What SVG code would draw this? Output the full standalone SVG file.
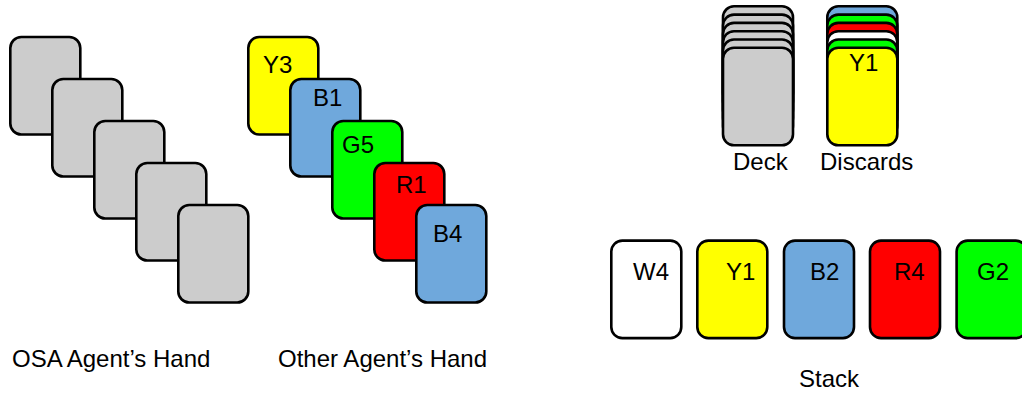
<svg xmlns="http://www.w3.org/2000/svg" width="1022" height="395" viewBox="0 0 1022 395">
  <style>
    .card { stroke: #000; stroke-width: 2.6; }
    .gray { fill: #cccccc; }
    .yellow { fill: #ffff00; }
    .blue { fill: #6fa8dc; }
    .green { fill: #00ff00; }
    .red { fill: #ff0000; }
    .white { fill: #ffffff; }
    text { font-family: "Liberation Sans", Arial, sans-serif; font-size: 24px; fill: #000; }
  </style>
  <defs>
    <rect id="c" class="card" x="0" y="0" width="70" height="97.5" rx="11" ry="11"/>
  </defs>
  <rect width="1022" height="395" fill="#ffffff"/>

  <!-- face-down hand -->
  <g id="osa-hand">
    <use href="#c" class="gray" x="10.3" y="37"/>
    <use href="#c" class="gray" x="52.3" y="79"/>
    <use href="#c" class="gray" x="94.3" y="121"/>
    <use href="#c" class="gray" x="136.3" y="163"/>
    <use href="#c" class="gray" x="178.3" y="205"/>
    <text x="12" y="367">OSA Agent’s Hand</text>
  </g>

  <!-- face-up hand -->
  <g id="other-hand">
    <g id="card-y3"><use href="#c" class="yellow" x="248.3" y="37"/><text x="263" y="73">Y3</text></g>
    <g id="card-b1"><use href="#c" class="blue" x="290.3" y="79"/><text x="313" y="106">B1</text></g>
    <g id="card-g5"><use href="#c" class="green" x="332.3" y="121"/><text x="342" y="153">G5</text></g>
    <g id="card-r1"><use href="#c" class="red" x="374.3" y="163"/><text x="396" y="193">R1</text></g>
    <g id="card-b4"><use href="#c" class="blue" x="416.3" y="205"/><text x="433" y="242">B4</text></g>
    <text x="278" y="367">Other Agent’s Hand</text>
  </g>

  <!-- draw pile -->
  <g id="deck">
    <use href="#c" class="gray" x="723" y="6.3"/>
    <use href="#c" class="gray" x="723" y="14.6"/>
    <use href="#c" class="gray" x="723" y="22.9"/>
    <use href="#c" class="gray" x="723" y="31.2"/>
    <use href="#c" class="gray" x="723" y="39.5"/>
    <use href="#c" class="gray" x="723" y="47.8"/>
    <text x="733" y="170">Deck</text>
  </g>

  <!-- discard pile -->
  <g id="discards">
    <use href="#c" class="blue" x="827.3" y="6.3"/>
    <use href="#c" class="green" x="827.3" y="14.6"/>
    <use href="#c" class="red" x="827.3" y="22.9"/>
    <use href="#c" class="white" x="827.3" y="31.2"/>
    <use href="#c" class="green" x="827.3" y="39.5"/>
    <use href="#c" class="yellow" x="827.3" y="47.8"/>
    <text x="849" y="71">Y1</text>
    <text x="820" y="170">Discards</text>
  </g>

  <!-- played stack -->
  <g id="stack">
    <g id="stack-w4"><use href="#c" class="white" x="611.3" y="240.6"/><text x="633" y="280">W4</text></g>
    <g id="stack-y1"><use href="#c" class="yellow" x="697.3" y="240.6"/><text x="726" y="280">Y1</text></g>
    <g id="stack-b2"><use href="#c" class="blue" x="784" y="240.6"/><text x="810" y="280">B2</text></g>
    <g id="stack-r4"><use href="#c" class="red" x="870" y="240.6"/><text x="894" y="280">R4</text></g>
    <g id="stack-g2"><use href="#c" class="green" x="956.6" y="240.6"/><text x="977" y="280">G2</text></g>
    <text x="799" y="387">Stack</text>
  </g>

  <g id="connectors"/>
</svg>
